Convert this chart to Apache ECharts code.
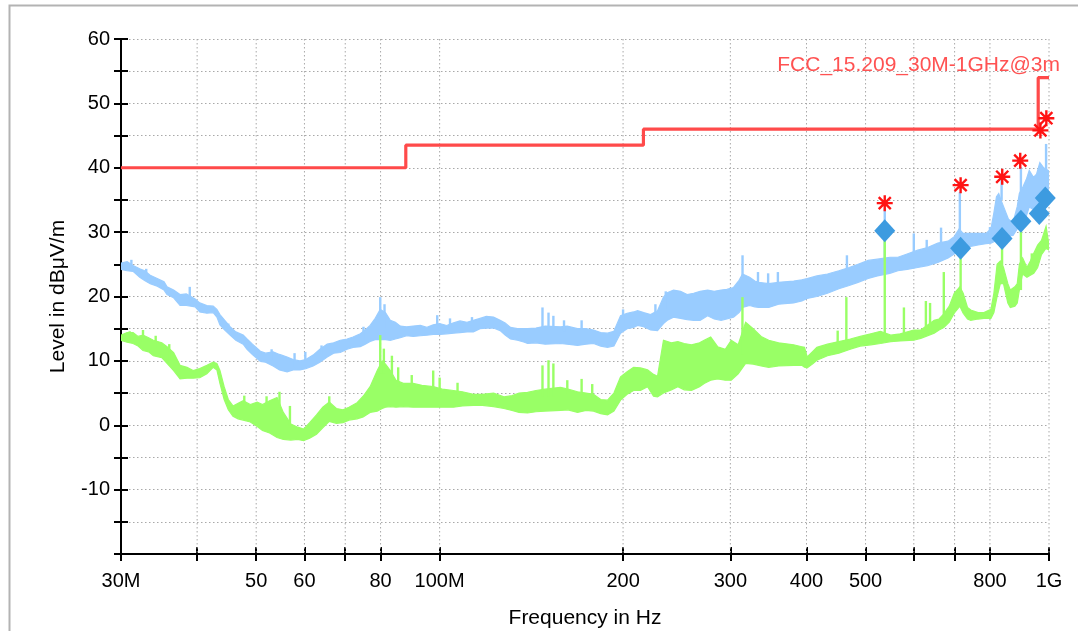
<!DOCTYPE html>
<html>
<head>
<meta charset="utf-8">
<script src="https://cdn.jsdelivr.net/npm/echarts@6/dist/echarts.min.js"></script>
<style>
html,body{margin:0;padding:0;background:#fff;}
#main{width:1078px;height:631px;}
</style>
</head>
<body>
<div id="main"></div>
<script>
// ---------- axes ----------
const tickFreqs  = [30,40,50,60,70,80,100,200,300,400,500,600,700,800,1000];
const labelFreqs = [30,50,60,80,100,200,300,400,500,800,1000];
const gridFreqs  = [40,50,60,70,80,100,200,300,400,500,600,700,800,1000];

// ---------- limit line (FCC 15.209 @3m) ----------
const limitFreq  = [30,88,88,216,216,960,960,1000];
const limitLevel = [40,40,43.5,43.5,46,46,54,54];
const limitName  = 'FCC_15.209_30M-1GHz@3m';

// ---------- peak trace (light blue) : envelope ----------
const pkFreq = [30.0,30.7,31.4,32.2,32.8,33.5,34.4,35.3,35.7,36.6,37.5,38.4,39.7,40.4,41.5,42.5,43.1,43.6,44.4,45.3,46.3,47.6,48.3,49.3,50.8,51.8,53.3,54.6,56.2,57.5,59.0,60.3,62.0,63.6,65.4,67.0,68.7,70.5,72.1,74.1,75.5,76.9,78.4,79.9,81.5,83.0,84.6,86.2,88.3,90.5,93.0,95.3,97.6,100.0,102.7,105.4,108.0,110.9,113.6,116.5,119.3,122.6,125.7,128.1,130.7,134.2,137.8,139.4,143.9,149.0,157.9,161.9,168.4,173.9,178.9,183.8,188.6,193.2,198.1,203.1,208.1,211.3,216.2,221.9,227.8,233.0,236.4,242.0,248.5,254.8,261.1,267.6,275.3,282.2,289.7,296.0,303.6,310.0,314.1,322.6,329.0,333.9,346.8,360.0,381.0,393.0,401.0,416.0,433.0,452.0,470.0,486.0,505.0,523.0,548.0,565.0,585.0,609.0,632.0,657.0,683.0,699.0,712.0,723.0,744.0,765.0,788.0,803.0,812.0,820.0,827.0,834.0,842.0,858.0,873.0,887.0,894.0,906.0,918.0,928.0,943.0,954.0,966.0,980.0,1000.0];
const pkHi = [25.2,25.4,24.8,24.3,24.0,23.3,22.8,22.3,21.5,21.0,20.3,20.4,19.6,19.0,18.6,18.5,18.0,17.2,16.3,15.3,14.5,14.0,13.4,12.6,11.5,11.2,11.4,11.0,10.6,10.2,10.0,10.2,10.9,11.8,12.6,12.8,13.2,13.4,13.7,14.2,14.8,15.5,16.6,18.0,17.5,16.3,16.0,15.4,15.3,15.4,15.5,15.2,15.6,15.8,15.5,15.9,16.2,16.0,16.3,16.6,16.9,16.8,16.3,15.9,15.2,15.0,15.0,15.0,15.1,15.4,15.3,15.4,15.0,15.0,14.8,14.4,14.3,14.6,17.0,17.4,17.6,17.8,17.5,17.2,17.8,19.9,20.6,21.0,20.8,20.3,20.5,20.8,21.0,20.8,21.0,21.1,21.4,22.5,23.5,23.0,22.4,22.2,22.0,22.2,22.4,22.6,22.8,23.2,23.5,24.0,24.5,25.0,25.6,25.8,26.1,26.1,26.6,27.2,27.6,28.3,28.6,29.3,30.5,29.8,29.8,29.8,29.8,30.5,33.0,35.5,36.0,35.0,34.0,32.0,31.5,34.0,36.0,37.0,38.2,39.6,38.5,39.0,40.8,40.0,39.5];
const pkLo = [24.2,24.0,23.9,23.0,22.5,22.0,21.6,21.0,20.3,19.8,18.6,18.6,18.4,17.6,17.4,17.5,16.8,15.6,14.8,14.0,13.2,12.6,11.8,11.0,9.9,9.8,9.2,8.6,8.3,8.6,8.6,8.8,9.2,9.8,10.6,11.2,11.3,11.8,12.1,12.2,12.6,13.0,13.3,13.3,13.3,13.2,13.4,13.6,13.9,13.8,13.9,14.0,14.1,14.1,14.2,14.3,14.4,14.5,14.5,15.0,15.1,15.1,14.7,14.0,13.4,13.2,12.9,12.7,12.8,12.6,12.7,12.6,12.4,12.6,12.7,12.3,12.1,12.3,14.3,15.0,15.2,15.5,15.3,14.8,14.7,15.8,16.3,16.8,16.6,16.4,16.3,16.3,17.0,16.5,16.3,16.5,16.8,17.5,18.3,18.6,18.4,18.3,18.3,18.8,19.0,19.3,19.7,20.0,20.5,21.2,21.7,22.2,22.8,23.2,23.6,24.0,24.2,24.5,24.8,25.3,26.0,26.6,27.0,27.7,27.8,28.0,28.2,28.3,28.5,29.0,30.0,29.6,29.5,29.4,29.5,30.5,31.0,32.0,32.5,33.9,33.5,33.8,34.8,35.0,35.0];
// narrow peaks of the peak trace: frequency, foot, top
const pkSpikeFreq = [31.2,33.0,38.9,45.0,53.0,57.8,60.2,64.0,75.0,79.9,81.2,99.1,104.0,113.0,147.5,150.9,153.7,160.0,171.0,200.0,226.0,235.0,314.1,333.0,346.0,359.0,466.0,537.6,600.0,630.0,665.0,714.0,800.0,836.0,899.3,989.0];
const pkSpikeBase = [24.0,22.5,19.5,14.5,10.0,9.0,10.0,11.0,13.0,17.0,15.0,15.5,15.0,15.5,15.0,15.0,15.0,14.5,14.8,16.0,17.0,18.0,23.0,22.0,22.0,22.0,24.0,25.5,26.5,27.0,28.0,29.0,29.0,35.0,33.0,38.0];
const pkSpikeTop  = [25.7,24.3,21.5,15.8,11.8,11.2,11.4,12.4,15.3,19.9,18.8,17.1,16.6,16.8,18.3,17.5,17.0,16.3,16.3,18.0,18.8,20.8,26.4,23.8,23.6,23.8,26.4,33.7,29.8,28.8,30.7,36.2,30.8,38.3,40.1,43.7];

// ---------- average trace (light green) : envelope ----------
const avFreq = [30.0,30.7,31.4,32.0,32.6,33.3,33.9,35.0,35.7,36.6,37.5,38.5,39.4,40.4,41.5,42.5,43.1,43.6,44.3,45.0,45.8,46.7,47.6,48.9,50.2,51.2,52.6,54.1,55.4,57.0,58.5,59.8,61.2,62.8,64.3,65.9,67.7,69.4,71.0,73.2,74.9,76.9,79.0,80.5,81.5,83.0,84.8,87.2,90.5,93.5,97.6,101.0,105.4,109.0,113.6,117.5,122.6,127.5,131.5,135.0,139.4,143.9,149.0,157.9,162.4,168.4,173.9,178.9,183.8,188.6,193.2,198.1,203.1,208.1,213.6,219.4,224.4,227.8,233.0,240.0,246.0,252.0,259.0,267.0,271.7,278.5,285.9,294.3,301.0,309.0,317.8,327.0,337.0,346.8,360.0,381.0,393.0,397.0,401.0,410.0,416.0,433.0,452.0,472.0,490.0,510.0,529.0,550.0,570.0,600.0,616.0,648.0,660.0,672.0,686.0,699.0,714.0,723.0,735.0,744.0,765.0,782.0,803.0,812.0,822.0,832.0,842.0,856.0,864.0,879.0,887.0,894.0,905.0,920.0,932.0,944.0,958.0,972.0,989.0,1000.0];
const avHi = [14.0,14.4,14.4,13.8,14.0,13.6,13.2,12.8,12.2,11.3,9.3,9.0,8.5,8.8,9.3,9.8,9.6,8.5,6.0,4.0,3.0,3.4,3.8,3.2,3.6,3.2,3.8,4.3,2.0,0.2,-0.3,-0.6,0.4,1.6,2.8,3.6,2.6,2.4,2.8,3.5,4.5,6.0,8.5,10.0,9.5,8.5,7.0,6.5,6.5,6.2,6.0,5.6,5.4,5.2,4.8,4.8,5.0,4.4,4.6,5.0,5.1,5.4,5.6,5.9,5.6,5.2,5.0,4.8,4.0,3.9,5.0,7.5,8.3,9.0,8.9,8.6,7.9,7.6,13.2,12.8,13.0,12.7,12.5,12.8,13.2,13.7,12.2,11.8,13.2,12.5,16.0,15.0,13.8,13.2,12.8,12.5,12.2,12.1,10.6,11.5,12.1,12.6,13.0,13.4,13.8,14.2,14.6,14.0,14.2,14.8,14.8,16.3,16.5,17.3,18.5,20.5,21.5,20.5,18.3,17.9,17.5,17.5,18.0,20.5,25.0,25.5,24.5,22.0,21.0,21.5,22.0,25.0,26.0,24.5,25.5,26.7,28.0,28.7,30.9,28.0];
const avLo = [13.2,12.9,12.7,12.3,11.6,11.4,10.8,10.5,9.6,8.5,7.2,7.3,7.3,7.4,8.0,9.0,8.6,6.5,4.0,2.4,1.4,1.0,0.8,0.5,-0.2,-0.8,-1.2,-1.9,-2.2,-2.3,-2.2,-2.4,-2.0,-1.4,-0.4,0.6,0.3,0.4,0.8,1.0,1.3,2.0,2.2,2.6,2.8,2.9,2.8,2.9,2.8,2.8,2.8,2.8,2.8,3.0,3.1,3.1,2.9,2.6,2.3,2.0,1.9,2.1,2.2,2.3,2.4,2.0,2.3,2.2,1.8,1.6,2.2,3.9,4.8,5.4,5.4,6.0,4.5,4.4,5.0,5.5,6.0,5.5,5.4,6.0,6.5,7.0,7.2,7.0,7.0,8.0,9.6,9.5,9.2,9.0,9.2,9.3,9.3,9.0,8.9,9.6,10.1,10.8,11.2,11.8,12.3,12.5,12.7,13.0,13.1,13.2,13.5,14.3,14.8,15.2,16.0,17.4,18.5,17.4,16.5,16.3,16.5,16.6,16.6,17.5,20.0,22.0,22.0,19.0,18.3,18.5,19.0,21.0,23.5,23.0,23.3,23.6,24.5,26.5,27.5,27.2];
const avSpikeFreq = [31.0,32.6,34.2,36.0,47.8,52.0,54.6,56.8,65.9,79.9,81.0,83.5,85.5,90.0,97.6,100.0,107.0,147.5,150.9,153.7,162.0,171.0,178.0,314.0,450.0,465.0,537.6,578.0,628.0,638.0,672.0,716.1,837.5,899.3,937.0];
const avSpikeBase = [13.0,13.0,12.0,10.0,3.0,3.0,3.0,0.0,3.0,8.0,8.0,7.0,6.0,5.5,5.5,5.0,4.8,4.5,4.5,4.5,5.0,4.8,4.5,11.0,12.5,12.5,14.0,14.0,15.0,15.0,16.5,20.0,24.0,21.0,24.0];
const avSpikeTop  = [14.6,14.8,13.9,12.6,4.6,4.5,5.2,3.0,4.5,14.0,11.9,10.8,9.0,7.8,8.5,7.4,6.6,9.3,10.1,9.6,7.0,7.2,6.4,19.9,14.7,19.9,29.8,18.3,19.3,19.0,23.8,27.3,29.0,31.5,26.7];

// ---------- final measurements ----------
const qpFreq  = [537.6,716.1,837.5,899.3,964.0,986.0];
const qpLevel = [30.2,27.5,29.0,31.7,32.9,35.3];
const pkMarkFreq  = [537.6,716.1,838.0,897.0,968.0,990.0];
const pkMarkLevel = [34.5,37.3,38.6,41.1,45.8,47.7];

// ---------- build ----------
const FONT = 'Liberation Sans, Arial, sans-serif';
const zip2 = (a, b) => a.map((v, i) => [v, b[i]]);
const zip3 = (a, b, c) => a.map((v, i) => [v, b[i], c[i]]);

function bandSeries(freq, hi, lo, color, z) {
  return {
    type: 'custom', z: z, silent: true, clip: true,
    data: [[freq[0], lo[0]]],
    encode: { x: 0, y: 1 },
    renderItem: function (params, api) {
      const pts = [];
      for (let i = 0; i < freq.length; i++) pts.push(api.coord([freq[i], hi[i]]));
      for (let i = freq.length - 1; i >= 0; i--) pts.push(api.coord([freq[i], lo[i]]));
      return { type: 'polygon', shape: { points: pts },
               style: { fill: color, stroke: color, lineWidth: 1.2 } };
    }
  };
}
function spikeSeries(freq, base, top, color, z) {
  return {
    type: 'custom', z: z, silent: true, clip: true,
    data: zip3(freq, base, top),
    encode: { x: 0, y: [1, 2] },
    renderItem: function (params, api) {
      const p0 = api.coord([api.value(0), api.value(1)]);
      const p1 = api.coord([api.value(0), api.value(2)]);
      return { type: 'line', shape: { x1: p0[0], y1: p0[1], x2: p1[0], y2: p1[1] },
               style: { stroke: color, lineWidth: 2.4 } };
    }
  };
}

const asterisk = 'path://M8.5,0h3v20h-3z M0,8.5h20v3h-20z M1.4,3.5l2.1,-2.1l15.1,15.1l-2.1,2.1z M16.5,1.4l2.1,2.1l-15.1,15.1l-2.1,-2.1z';

const xLabelFmt = v => {
  const r = Math.round(v);
  if (r === 30) return '30M';
  if (r === 100) return '100M';
  if (r === 1000) return '1G';
  return String(r);
};

const option = {
  animation: false,
  backgroundColor: '#fff',
  grid: { left: 121, right: 29, top: 39, bottom: 77, containLabel: false, outerBoundsMode: 'none' },
  xAxis: [
    {
      type: 'log', logBase: 10, min: 30, max: 1000, position: 'bottom',
      axisLine: { show: true, onZero: false, lineStyle: { color: '#000', width: 2 } },
      axisTick: { show: true, customValues: tickFreqs, length: 7, lineStyle: { color: '#000', width: 2 } },
      axisLabel: { show: true, customValues: labelFreqs, formatter: xLabelFmt, fontSize: 20,
                   fontFamily: FONT, color: '#000', margin: 17 },
      splitLine: { show: false }, minorTick: { show: false },
      name: 'Frequency in Hz', nameLocation: 'middle', nameGap: 54,
      nameTextStyle: { fontSize: 21, fontFamily: FONT, color: '#000' }
    },
    {
      type: 'log', logBase: 10, min: 30, max: 1000, position: 'bottom',
      axisLine: { show: false, onZero: false },
      axisTick: { show: true, inside: true, customValues: tickFreqs, length: 7, lineStyle: { color: '#000', width: 2 } },
      axisLabel: { show: false }, splitLine: { show: false }
    }
  ],
  yAxis: [
    {
      type: 'value', min: -20, max: 60, interval: 5, position: 'left',
      axisLine: { show: true, onZero: false, lineStyle: { color: '#000', width: 2 } },
      axisTick: { show: true, length: 7, lineStyle: { color: '#000', width: 2 } },
      axisLabel: { fontSize: 20, fontFamily: FONT, color: '#000', margin: 11,
                   formatter: v => (v % 10 === 0 && v > -20 ? String(v) : '') },
      splitLine: { show: true, lineStyle: { color: '#a9a9a9', width: 1, type: [1.5, 2.5] } },
      name: 'Level in dBμV/m', nameLocation: 'middle', nameGap: 52,
      nameTextStyle: { fontSize: 21, fontFamily: FONT, color: '#000' }
    },
    {
      type: 'value', min: -20, max: 60, interval: 5, position: 'left',
      axisLine: { show: false, onZero: false },
      axisTick: { show: true, inside: true, length: 7, lineStyle: { color: '#000', width: 2 } },
      axisLabel: { show: false }, splitLine: { show: false }
    }
  ],
  graphic: [
    { type: 'rect', left: 7, top: 3, z: -10, silent: true,
      shape: { width: 1090, height: 650 },
      style: { fill: 'none', stroke: '#b3b3b3', lineWidth: 2 } },
    { type: 'text', right: 18, top: 55, z: 100, silent: true,
      style: { text: limitName, fill: '#ff5252', font: '21px ' + FONT } }
  ],
  series: [
    {
      type: 'custom', z: 1, silent: true,
      data: gridFreqs.map(f => [f, 0]),
      encode: { x: 0, y: 1 },
      renderItem: function (params, api) {
        const f = api.value(0);
        const a = api.coord([f, 60]);
        const b = api.coord([f, -20]);
        return { type: 'line', shape: { x1: a[0], y1: a[1], x2: b[0], y2: b[1] },
                 style: { stroke: '#a9a9a9', lineWidth: 1, lineDash: [1.5, 2.5] } };
      }
    },
    bandSeries(pkFreq, pkHi, pkLo, '#99ccff', 3),
    spikeSeries(pkSpikeFreq, pkSpikeBase, pkSpikeTop, '#99ccff', 3),
    bandSeries(avFreq, avHi, avLo, '#99ff66', 4),
    spikeSeries(avSpikeFreq, avSpikeBase, avSpikeTop, '#99ff66', 4),
    {
      type: 'line', z: 6, silent: true, symbol: 'none',
      data: zip2(limitFreq, limitLevel),
      lineStyle: { color: '#ff4a4a', width: 3.2 }
    },
    {
      type: 'scatter', z: 7, silent: true,
      data: zip2(qpFreq, qpLevel),
      symbol: 'diamond', symbolSize: [21, 23],
      itemStyle: { color: '#3d9be0', opacity: 1 }
    },
    {
      type: 'scatter', z: 8, silent: true,
      data: zip2(pkMarkFreq, pkMarkLevel),
      symbol: asterisk, symbolSize: 16,
      itemStyle: { color: '#ff1414', opacity: 1 }
    }
  ]
};

const chart = echarts.init(document.getElementById('main'));
chart.setOption(option);
</script>
</body>
</html>
